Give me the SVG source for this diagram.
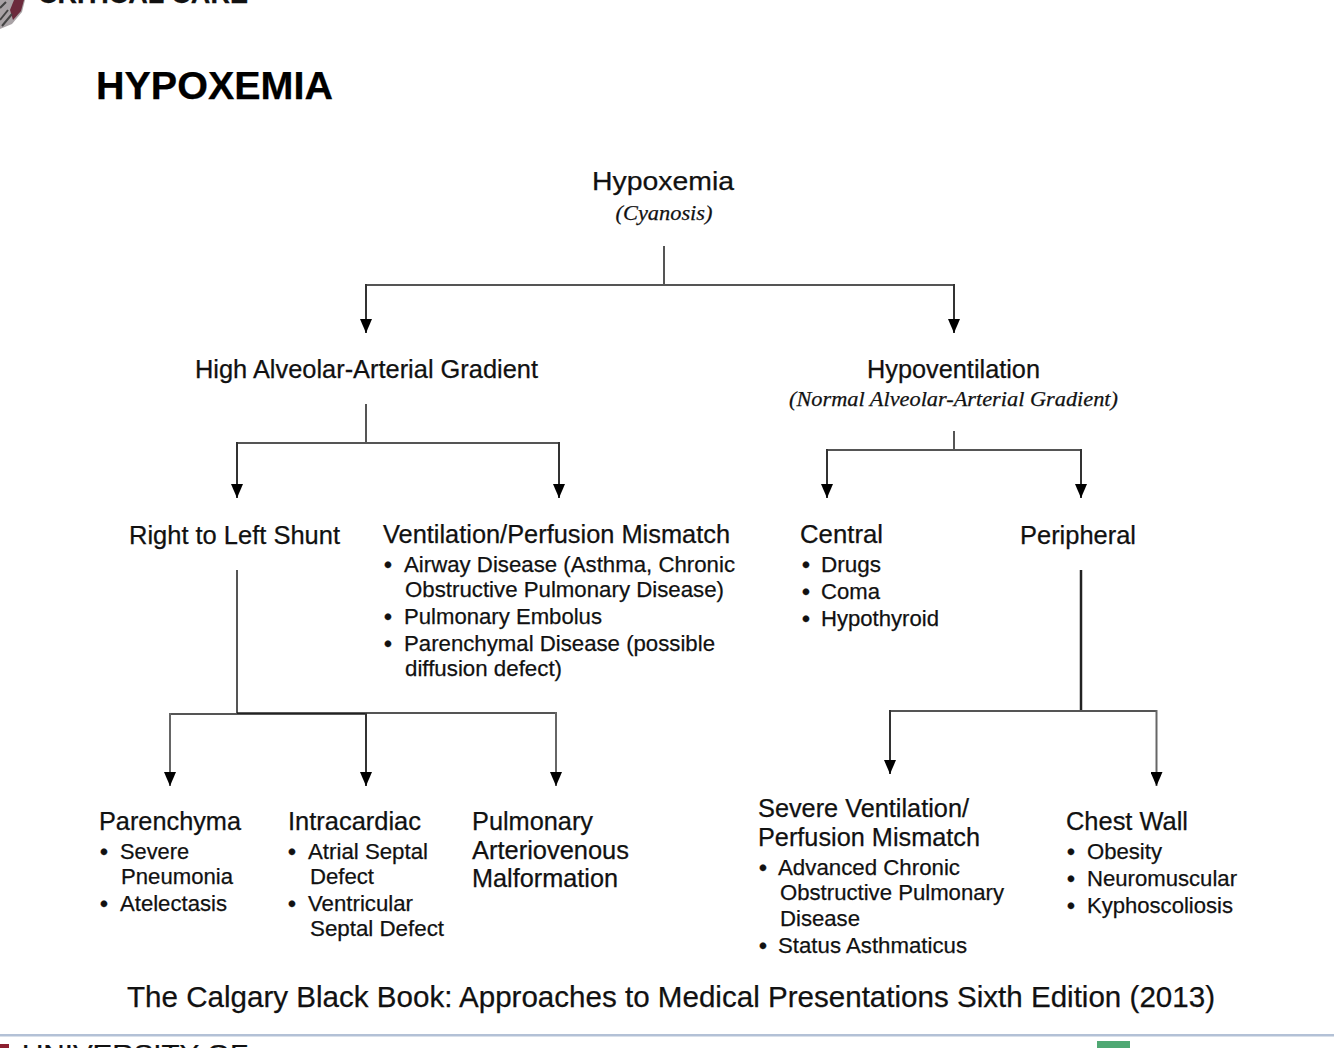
<svg xmlns="http://www.w3.org/2000/svg" width="1334" height="1048" viewBox="0 0 1334 1048">
<style>
text{font-family:"Liberation Sans",Arial,sans-serif;fill:#111;stroke:#111;stroke-width:.25}
.h{font-size:25.5px}
.i{font-family:"Liberation Serif","Times New Roman",serif;font-style:italic;font-size:21.5px;text-anchor:middle}
.c{text-anchor:middle}
.b{font-size:22.5px}
.d{font-weight:700}
.l{fill:none;stroke:#555;stroke-width:2}
.k{fill:none;stroke:#222;stroke-width:2.500}
.a{fill:none;stroke:#666;stroke-width:2;marker-end:url(#ah)}
.e{fill:none;stroke:#333;stroke-width:2;marker-end:url(#ah)}
</style>
<defs><marker id="ah" markerUnits="userSpaceOnUse" markerWidth="14" markerHeight="12" refX="14" refY="6" orient="auto" viewBox="0 0 14 12"><path d="M0 0L14 6L0 12Z" fill="#000"/></marker></defs>
<rect width="1334" height="1048" fill="#fff"/>
<g id="header">
<path d="M0 29 L12 24 L22 12 L25 0 H0Z" fill="#a9a3a6"/>
<path d="M13 20 L21 11 L24 0 H14 L10 10Z" fill="#6b2a3c"/>
<path d="M0 20 L8 10 M2 26 L12 14 M0 8 L6 2" stroke="#444" stroke-width="2" fill="none"/>
<text x="38" y="3" style="font-weight:700;font-size:26px" textLength="210" lengthAdjust="spacingAndGlyphs">CRITICAL CARE</text>
<text x="96" y="99" style="font-weight:700;font-size:38px;fill:#000;stroke:#000" textLength="237" lengthAdjust="spacingAndGlyphs">HYPOXEMIA</text>
</g>
<g id="connectors">
<path class="l" d="M664 246V285"/>
<path class="l" d="M366 285H954"/>
<path class="e" d="M366 284V333"/>
<path class="e" d="M954 284V333"/>
<path class="l" d="M366 404V443"/>
<path class="l" d="M237 443H559"/>
<path class="e" d="M237 442V498"/>
<path class="e" d="M559 442V498"/>
<path class="l" d="M954 431V450"/>
<path class="l" d="M827 450H1081"/>
<path class="e" d="M827 449V498"/>
<path class="e" d="M1081 449V498"/>
<path class="l" d="M237 570V713"/>
<path class="l" d="M170 714H237"/>
<path class="k" d="M237 713.500H366"/>
<path class="l" d="M366 713H556"/>
<path class="a" d="M170 713V786"/>
<path class="e" d="M366 713V786"/>
<path class="a" d="M556 712V786"/>
<path class="k" d="M1081 570V711"/>
<path class="l" d="M890 711H1157"/>
<path class="e" d="M890 710V774"/>
<path class="a" d="M1156.500 710V786"/>
</g>
<g id="n-hypoxemia"><text class="h c" x="663" y="190" textLength="142" lengthAdjust="spacingAndGlyphs">Hypoxemia</text><text class="i" x="664" y="220" textLength="97" lengthAdjust="spacingAndGlyphs">(Cyanosis)</text></g>
<g id="n-high"><text class="h" x="195" y="378" textLength="343" lengthAdjust="spacingAndGlyphs">High Alveolar-Arterial Gradient</text></g>
<g id="n-hypovent"><text class="h" x="867" y="378" textLength="173" lengthAdjust="spacingAndGlyphs">Hypoventilation</text><text class="i" x="953.500" y="406" textLength="329" lengthAdjust="spacingAndGlyphs">(Normal Alveolar-Arterial Gradient)</text></g>
<g id="n-shunt"><text class="h" x="129" y="544" textLength="211" lengthAdjust="spacingAndGlyphs">Right to Left Shunt</text></g>
<g id="n-vq">
<text class="h" x="383" y="543" textLength="347" lengthAdjust="spacingAndGlyphs">Ventilation/Perfusion Mismatch</text>
<g class="b">
<text class="d" x="384" y="572">•</text><text x="404" y="572" textLength="331" lengthAdjust="spacingAndGlyphs">Airway Disease (Asthma, Chronic</text>
<text x="405" y="597" textLength="319" lengthAdjust="spacingAndGlyphs">Obstructive Pulmonary Disease)</text>
<text class="d" x="384" y="624">•</text><text x="404" y="624" textLength="198" lengthAdjust="spacingAndGlyphs">Pulmonary Embolus</text>
<text class="d" x="384" y="651">•</text><text x="404" y="651" textLength="311" lengthAdjust="spacingAndGlyphs">Parenchymal Disease (possible</text>
<text x="405" y="676" textLength="157" lengthAdjust="spacingAndGlyphs">diffusion defect)</text>
</g></g>
<g id="n-central">
<text class="h" x="800" y="543" textLength="83" lengthAdjust="spacingAndGlyphs">Central</text>
<g class="b">
<text class="d" x="802" y="572">•</text><text x="821" y="572" textLength="60" lengthAdjust="spacingAndGlyphs">Drugs</text>
<text class="d" x="802" y="599">•</text><text x="821" y="599" textLength="59" lengthAdjust="spacingAndGlyphs">Coma</text>
<text class="d" x="802" y="626">•</text><text x="821" y="626" textLength="118" lengthAdjust="spacingAndGlyphs">Hypothyroid</text>
</g></g>
<g id="n-peripheral"><text class="h" x="1020" y="544" textLength="116" lengthAdjust="spacingAndGlyphs">Peripheral</text></g>
<g id="n-parenchyma">
<text class="h" x="99" y="830" textLength="142" lengthAdjust="spacingAndGlyphs">Parenchyma</text>
<g class="b">
<text class="d" x="100" y="859">•</text><text x="120" y="859" textLength="69" lengthAdjust="spacingAndGlyphs">Severe</text>
<text x="121" y="884" textLength="112" lengthAdjust="spacingAndGlyphs">Pneumonia</text>
<text class="d" x="100" y="911">•</text><text x="120" y="911" textLength="107" lengthAdjust="spacingAndGlyphs">Atelectasis</text>
</g></g>
<g id="n-intracardiac">
<text class="h" x="288" y="830" textLength="133" lengthAdjust="spacingAndGlyphs">Intracardiac</text>
<g class="b">
<text class="d" x="288" y="859">•</text><text x="308" y="859" textLength="120" lengthAdjust="spacingAndGlyphs">Atrial Septal</text>
<text x="310" y="884" textLength="64" lengthAdjust="spacingAndGlyphs">Defect</text>
<text class="d" x="288" y="911">•</text><text x="308" y="911" textLength="105" lengthAdjust="spacingAndGlyphs">Ventricular</text>
<text x="310" y="936" textLength="134" lengthAdjust="spacingAndGlyphs">Septal Defect</text>
</g></g>
<g id="n-avm">
<text class="h" x="472" y="830" textLength="121" lengthAdjust="spacingAndGlyphs">Pulmonary</text>
<text class="h" x="472" y="859" textLength="157" lengthAdjust="spacingAndGlyphs">Arteriovenous</text>
<text class="h" x="472" y="887" textLength="146" lengthAdjust="spacingAndGlyphs">Malformation</text>
</g>
<g id="n-severe">
<text class="h" x="758" y="817" textLength="211" lengthAdjust="spacingAndGlyphs">Severe Ventilation/</text>
<text class="h" x="758" y="846" textLength="222" lengthAdjust="spacingAndGlyphs">Perfusion Mismatch</text>
<g class="b">
<text class="d" x="759" y="875">•</text><text x="778" y="875" textLength="182" lengthAdjust="spacingAndGlyphs">Advanced Chronic</text>
<text x="780" y="900" textLength="224" lengthAdjust="spacingAndGlyphs">Obstructive Pulmonary</text>
<text x="780" y="926" textLength="80" lengthAdjust="spacingAndGlyphs">Disease</text>
<text class="d" x="759" y="953">•</text><text x="778" y="953" textLength="189" lengthAdjust="spacingAndGlyphs">Status Asthmaticus</text>
</g></g>
<g id="n-chest">
<text class="h" x="1066" y="830" textLength="122" lengthAdjust="spacingAndGlyphs">Chest Wall</text>
<g class="b">
<text class="d" x="1067" y="859">•</text><text x="1087" y="859" textLength="75" lengthAdjust="spacingAndGlyphs">Obesity</text>
<text class="d" x="1067" y="886">•</text><text x="1087" y="886" textLength="150" lengthAdjust="spacingAndGlyphs">Neuromuscular</text>
<text class="d" x="1067" y="913">•</text><text x="1087" y="913" textLength="146" lengthAdjust="spacingAndGlyphs">Kyphoscoliosis</text>
</g></g>
<g id="footer">
<text x="127" y="1007" style="font-size:30px" textLength="1088" lengthAdjust="spacingAndGlyphs">The Calgary Black Book: Approaches to Medical Presentations Sixth Edition (2013)</text>
<rect x="0" y="1034" width="1334" height="2.500" fill="#b3c1d6"/>
<rect x="0" y="1044" width="9" height="4" fill="#8c2030"/>
<text x="22" y="1063" style="font-size:26px" textLength="226" lengthAdjust="spacingAndGlyphs">UNIVERSITY OF</text>
<rect x="1097" y="1041" width="33" height="7" fill="#4fa873"/>
</g>
</svg>
